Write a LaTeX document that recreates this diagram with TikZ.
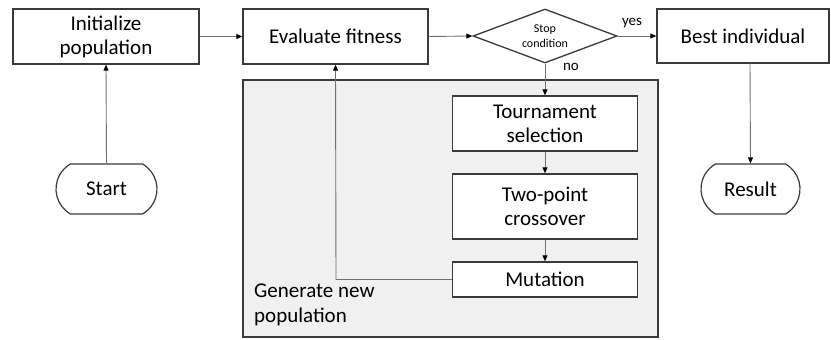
\documentclass[tikz,border=0pt]{standalone}
\usepackage{fontspec}
\setmainfont{Carlito}
\usetikzlibrary{shapes.geometric,shapes.misc,arrows.meta}
\definecolor{boxline}{HTML}{3A3A3A}
\definecolor{conn}{HTML}{707070}
\definecolor{panel}{HTML}{F0F0F0}
\tikzset{
  procbox/.style={draw=boxline, line width=1.3pt, fill=white, inner sep=0pt, align=center,
    font=\fontsize{21}{24}\selectfont},
  termbox/.style={draw=boxline, line width=1.2pt, fill=white, inner sep=0pt, align=center,
    rounded rectangle, rounded rectangle arc length=120,
    font=\fontsize{21}{24}\selectfont, minimum height=50pt},
  decbox/.style={draw=boxline, line width=1.3pt, fill=white, diamond, aspect=2.7, inner sep=0pt,
    align=center, minimum width=144pt, minimum height=54pt,
    font=\fontsize{12}{15}\selectfont},
  conn/.style={draw=conn, line width=0.9pt, -{Triangle[length=6pt,width=5pt,fill=black,color=black]}},
  lbl/.style={font=\fontsize{15}{17}\selectfont, inner sep=0pt},
}
\begin{document}
\begin{tikzpicture}[x=1pt,y=-1pt]
\useasboundingbox (0,0) rectangle (831,340);
% gray panel
\node[draw=boxline, line width=1.3pt, fill=panel, inner sep=0pt, minimum width=415pt, minimum height=257pt] (panel) at (450.5,208.5) {};
\node[anchor=west, align=left, inner sep=0pt, font=\fontsize{21}{25}\selectfont] (gen) at (254,305) {Generate new\\population};

\node[procbox, minimum width=186pt, minimum height=55pt] (init) at (106,36.5) {Initialize\\population};
\node[procbox, minimum width=185pt, minimum height=55pt] (eval) at (335.5,36.5) {Evaluate fitness};
\node[decbox] (stop) at (545,36) {Stop\\condition};
\node[procbox, minimum width=172pt, minimum height=54pt] (best) at (743,36) {Best individual};
\node[procbox, minimum width=185pt, minimum height=55pt] (tour) at (545,123.5) {Tournament\\selection};
\node[procbox, minimum width=185pt, minimum height=65pt] (cross) at (545,206.5) {Two-point\\crossover};
\node[procbox, minimum width=185pt, minimum height=35pt] (mut) at (545,279.5) {Mutation};
\node[termbox, minimum width=101pt] (start) at (106.5,189) {Start};
\node[termbox, minimum width=99pt] (result) at (750.5,189) {Result};

\node[lbl] (yes) at (632,23) {yes};
\node[lbl] (no) at (571,67) {no};

\coordinate (bestout) at (750,63);
\coordinate (bend) at (336,279.5);

\draw[conn] (start.north) -- (init.south);
\draw[conn] (init.east) -- (eval.west);
\draw[conn] (eval.east) -- (stop.west);
\draw[conn] (stop.east) -- (best.west);
\draw[conn] (stop.south) -- (tour.north);
\draw[conn] (tour.south) -- (cross.north);
\draw[conn] (cross.south) -- (mut.north);
\draw[conn] (mut.west) -- (bend) -- (eval.south);
\draw[conn] (bestout) -- (result.north);
\end{tikzpicture}
\end{document}
